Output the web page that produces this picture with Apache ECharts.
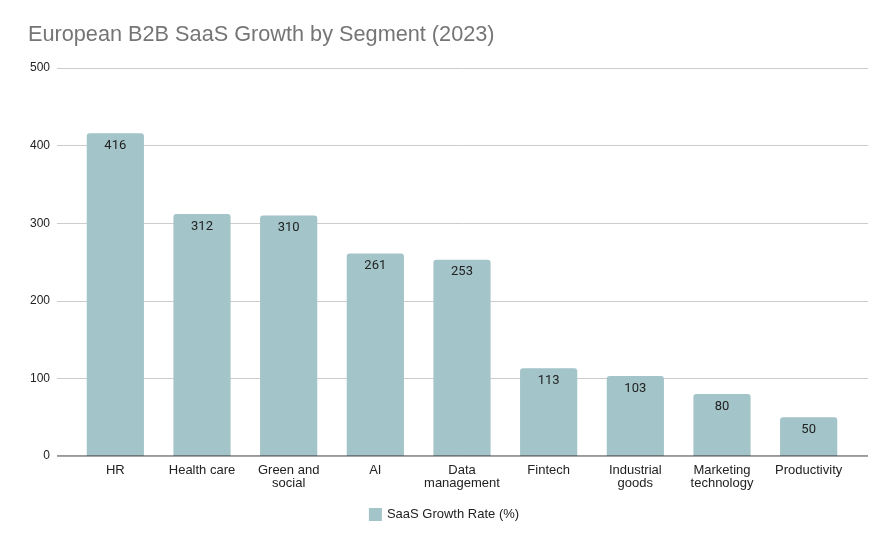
<!DOCTYPE html>
<html>
<head>
<meta charset="utf-8">
<script src="https://cdn.jsdelivr.net/npm/echarts@6/dist/echarts.min.js"></script>
<style>
    html, body { margin: 0; padding: 0; background: #fff; }
    #chart { width: 888px; height: 534px; }
</style>
</head>
<body>
<div id="chart"></div>
<script>
var segments = ['HR', 'Health care', 'Green and\nsocial', 'AI', 'Data\nmanagement', 'Fintech', 'Industrial\ngoods', 'Marketing\ntechnology', 'Productivity'];
var growthRates = [416, 312, 310, 261, 253, 113, 103, 80, 50];
var yTicks = [0, 100, 200, 300, 400, 500];

var textFont = 'Liberation Sans';

/* ---------- bar chart ---------- */
var chart = echarts.init(document.getElementById('chart'));

var option = {
    animation: false,
    title: {
        text: 'European B2B SaaS Growth by Segment (2023)',
        left: 23,
        top: 19,
        textStyle: {
            fontFamily: textFont,
            fontSize: 21.7,
            fontWeight: 'normal',
            color: '#757575'
        }
    },
    legend: {
        bottom: 8,
        left: 'center',
        icon: 'rect',
        itemWidth: 13,
        itemHeight: 13,
        itemGap: 8,
        textStyle: {
            fontFamily: textFont,
            fontSize: 13,
            color: '#222'
        }
    },
    // grid 0: gridlines + y labels (wide), grid 1: bars (inset)
    grid: [
        { left: 57, right: 20, top: 68, bottom: 78 },
        { left: 72, right: 36, top: 68, bottom: 78 }
    ],
    xAxis: [{
        gridIndex: 0,
        type: 'value',
        show: false
    }, {
        gridIndex: 1,
        type: 'category',
        data: segments,
        axisTick: { show: false },
        axisLine: { show: false },
        axisLabel: {
            interval: 0,
            margin: 8,
            fontFamily: textFont,
            fontSize: 13,
            color: '#222',
            lineHeight: 13
        }
    }],
    yAxis: [{
        gridIndex: 0,
        type: 'value',
        min: yTicks[0],
        max: yTicks[yTicks.length - 1],
        interval: 100,
        axisLine: { show: false },
        axisTick: { show: false },
        axisLabel: {
            margin: 7,
            fontFamily: textFont,
            fontSize: 12,
            color: '#222'
        },
        splitLine: { lineStyle: { color: '#cccccc', width: 1 } }
    }, {
        gridIndex: 1,
        type: 'value',
        min: yTicks[0],
        max: yTicks[yTicks.length - 1],
        interval: 100,
        axisLine: { show: false },
        axisTick: { show: false },
        axisLabel: { show: false },
        splitLine: { show: false }
    }],
    series: [{
        // dark baseline across the full width at y = 0
        type: 'line',
        xAxisIndex: 0,
        yAxisIndex: 0,
        data: [[0, 0], [1, 0]],
        symbol: 'none',
        silent: true,
        lineStyle: { color: '#333', width: 1 },
        z: 5
    }, {
        name: 'SaaS Growth Rate (%)',
        type: 'bar',
        xAxisIndex: 1,
        yAxisIndex: 1,
        data: growthRates,
        barWidth: '66%',
        itemStyle: {
            color: '#a3c4c8',
            borderRadius: [3, 3, 0, 0]
        },
        label: {
            show: true,
            position: 'insideTop',
            distance: 6,
            fontFamily: 'Roboto',
            fontSize: 13,
            color: '#222'
        }
    }]
};

chart.setOption(option);
</script>
</body>
</html>
